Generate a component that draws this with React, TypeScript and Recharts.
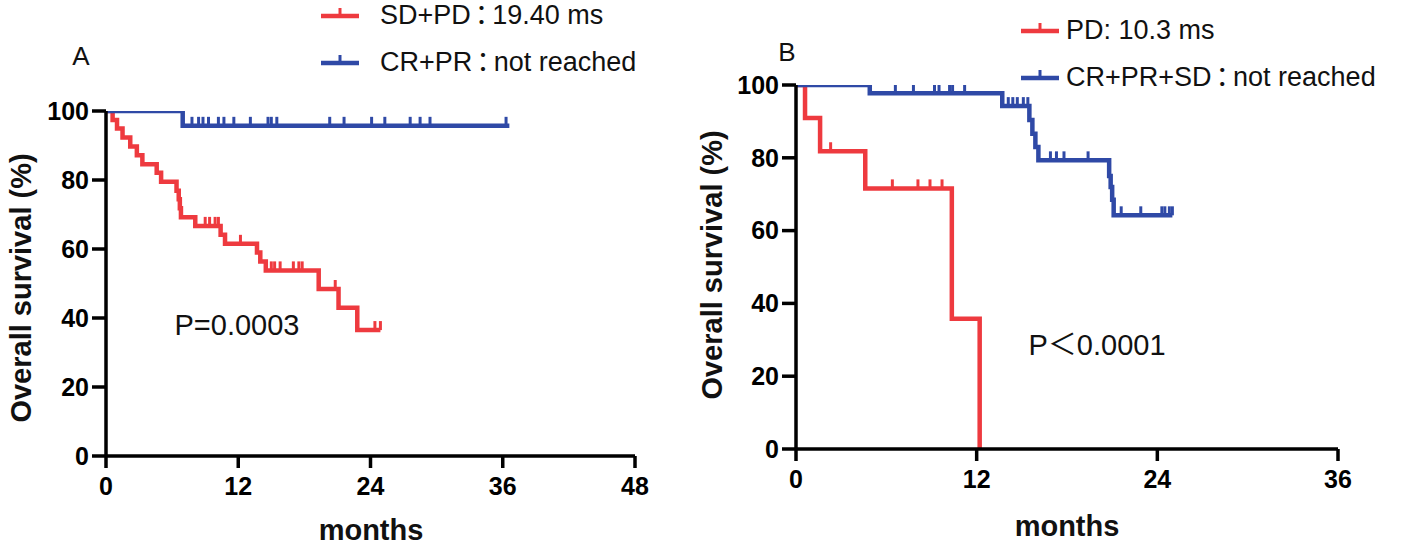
import React from 'react';
import { LineChart, Line, XAxis, YAxis } from 'recharts';

type Pt = { t: number; s: number; c?: number };

const RED = '#EE3A3F';
const BLUE = '#2F49A6';
const FONT = '"Liberation Sans", Arial, "Noto Sans CJK SC", sans-serif';

// ---------- Panel A ----------
const ticksA = [0, 12, 24, 36, 48];
const yTicks = [0, 20, 40, 60, 80, 100];

const sdpdA: Pt[] = [
  { t: 0, s: 100 }, { t: 0.6, s: 97.4 }, { t: 1.0, s: 94.9 }, { t: 1.5, s: 92.3 },
  { t: 2.2, s: 89.7 }, { t: 2.8, s: 87.2 }, { t: 3.3, s: 84.6 }, { t: 4.6, s: 82.1 },
  { t: 5.0, s: 79.5 }, { t: 6.4, s: 76.9 }, { t: 6.6, s: 74.4 }, { t: 6.7, s: 71.8 },
  { t: 6.8, s: 69.2 }, { t: 8.1, s: 66.7 }, { t: 9.0, s: 66.7, c: 1 }, { t: 9.4, s: 66.7, c: 1 },
  { t: 9.9, s: 66.7, c: 1 }, { t: 10.2, s: 66.7, c: 1 }, { t: 10.4, s: 64.1 }, { t: 10.8, s: 61.5 },
  { t: 12.2, s: 61.5, c: 1 }, { t: 13.7, s: 59.0 }, { t: 14.0, s: 56.4 }, { t: 14.5, s: 53.8 },
  { t: 15.0, s: 53.8, c: 1 }, { t: 15.3, s: 53.8, c: 1 }, { t: 15.8, s: 53.8, c: 1 },
  { t: 17.0, s: 53.8, c: 1 }, { t: 17.5, s: 53.8, c: 1 }, { t: 17.8, s: 53.8, c: 1 },
  { t: 19.3, s: 48.4 }, { t: 20.8, s: 48.4, c: 1 }, { t: 21.1, s: 43.0 }, { t: 22.8, s: 36.5 },
  { t: 24.4, s: 36.5, c: 1 }, { t: 24.9, s: 36.5, c: 1 },
];

const crprA: Pt[] = [
  { t: 0, s: 100 }, { t: 6.96, s: 95.7 }, { t: 7.8, s: 95.7, c: 1 }, { t: 8.4, s: 95.7, c: 1 },
  { t: 8.8, s: 95.7, c: 1 }, { t: 9.3, s: 95.7, c: 1 }, { t: 10.2, s: 95.7, c: 1 },
  { t: 10.7, s: 95.7, c: 1 }, { t: 11.6, s: 95.7, c: 1 }, { t: 13.1, s: 95.7, c: 1 },
  { t: 14.7, s: 95.7, c: 1 }, { t: 15.0, s: 95.7, c: 1 }, { t: 15.5, s: 95.7, c: 1 },
  { t: 20.3, s: 95.7, c: 1 }, { t: 21.6, s: 95.7, c: 1 }, { t: 24.1, s: 95.7, c: 1 },
  { t: 25.3, s: 95.7, c: 1 }, { t: 27.6, s: 95.7, c: 1 }, { t: 28.5, s: 95.7, c: 1 },
  { t: 29.4, s: 95.7, c: 1 }, { t: 36.3, s: 95.7, c: 1 }, { t: 36.6, s: 95.7 },
];

// ---------- Panel B ----------
const ticksB = [0, 12, 24, 36];

const pdB: Pt[] = [
  { t: 0, s: 100 }, { t: 0.6, s: 90.9 }, { t: 1.6, s: 81.8 }, { t: 2.3, s: 81.8, c: 1 },
  { t: 4.6, s: 71.6 }, { t: 6.4, s: 71.6, c: 1 }, { t: 8.1, s: 71.6, c: 1 },
  { t: 8.9, s: 71.6, c: 1 }, { t: 9.7, s: 71.6, c: 1 }, { t: 10.35, s: 35.8 }, { t: 12.2, s: 0 },
];

const crprsdB: Pt[] = [
  { t: 0, s: 100 }, { t: 1.0, s: 100, c: 1 }, { t: 1.6, s: 100, c: 1 }, { t: 2.6, s: 100, c: 1 },
  { t: 3.4, s: 100, c: 1 }, { t: 4.4, s: 100, c: 1 }, { t: 4.9, s: 97.7 },
  { t: 6.6, s: 97.7, c: 1 }, { t: 7.8, s: 97.7, c: 1 }, { t: 9.2, s: 97.7, c: 1 },
  { t: 9.5, s: 97.7, c: 1 }, { t: 10.2, s: 97.7, c: 1 }, { t: 10.4, s: 97.7, c: 1 },
  { t: 11.2, s: 97.7, c: 1 }, { t: 13.7, s: 94.2 }, { t: 14.1, s: 94.2, c: 1 },
  { t: 14.4, s: 94.2, c: 1 }, { t: 14.7, s: 94.2, c: 1 }, { t: 15.1, s: 94.2, c: 1 },
  { t: 15.4, s: 94.2, c: 1 }, { t: 15.5, s: 90.4 }, { t: 15.7, s: 86.6 }, { t: 15.9, s: 83.0 },
  { t: 16.1, s: 79.3 }, { t: 16.9, s: 79.3, c: 1 }, { t: 17.3, s: 79.3, c: 1 },
  { t: 17.8, s: 79.3, c: 1 }, { t: 19.4, s: 79.3, c: 1 }, { t: 20.8, s: 75.0 },
  { t: 20.9, s: 72.0 }, { t: 21.0, s: 68.5 }, { t: 21.1, s: 64.2 }, { t: 21.6, s: 64.2, c: 1 },
  { t: 22.9, s: 64.2, c: 1 }, { t: 24.3, s: 64.2, c: 1 }, { t: 24.5, s: 64.2, c: 1 },
  { t: 24.8, s: 64.2, c: 1 }, { t: 25.0, s: 64.2, c: 1 },
];

const legendA = [
  { name: 'SD+PD：19.40 ms', color: RED },
  { name: 'CR+PR：not reached', color: BLUE },
];
const legendB = [
  { name: 'PD: 10.3 ms', color: RED },
  { name: 'CR+PR+SD：not reached', color: BLUE },
];

const censorDot = (color: string) => (props: any) => {
  const { cx, cy, payload, index } = props;
  if (!payload || !payload.c || cx == null || cy == null) return <g key={`n-${index}`} />;
  return (
    <line key={`c-${index}`} x1={cx} x2={cx} y1={cy} y2={cy - 9} stroke={color} strokeWidth={3} />
  );
};

const axisStyle = { stroke: '#000', strokeWidth: 3.5 };
const tickStyle = { fill: '#000', fontSize: 25, fontWeight: 700, fontFamily: FONT };

type PanelProps = {
  left: number;
  width: number;
  margin: { top: number; right: number; bottom: number; left: number };
  xMax: number;
  xTicks: number[];
  series: { data: Pt[]; color: string; name: string }[];
};

const Panel = ({ left, width, margin, xMax, xTicks, series }: PanelProps) => (
  <div style={{ position: 'absolute', left, top: 0 }}>
    <LineChart width={width} height={548} margin={margin}>
      <XAxis
        dataKey="t"
        type="number"
        domain={[0, xMax]}
        ticks={xTicks}
        allowDataOverflow
        height={60}
        tickSize={12}
        tickMargin={9}
        axisLine={axisStyle}
        tickLine={axisStyle}
        tick={tickStyle}
      />
      <YAxis
        type="number"
        domain={[0, 100]}
        ticks={yTicks}
        allowDataOverflow
        width={60}
        tickSize={14}
        tickMargin={3}
        axisLine={axisStyle}
        tickLine={axisStyle}
        tick={tickStyle}
      />
      {series.map((sr) => (
        <Line
          key={sr.name}
          name={sr.name}
          data={sr.data}
          dataKey="s"
          type="stepAfter"
          stroke={sr.color}
          strokeWidth={4.5}
          dot={censorDot(sr.color)}
          activeDot={false}
          isAnimationActive={false}
        />
      ))}
    </LineChart>
  </div>
);

const LegendRow = ({ x, y, textX, item }: { x: number; y: number; textX: number; item: any }) => {
  const parts = item.name.split('：');
  return (
    <>
      <svg style={{ position: 'absolute', left: x, top: y - 8 }} width={38} height={14}>
        <line x1={0} x2={38} y1={9} y2={9} stroke={item.color} strokeWidth={4.5} />
        <line x1={19} x2={19} y1={9} y2={1} stroke={item.color} strokeWidth={3} />
      </svg>
      <div
        style={{
          position: 'absolute',
          left: textX,
          top: y,
          transform: 'translateY(-50%)',
          fontSize: 27,
          fontFamily: FONT,
          fontFeatureSettings: '"palt"',
          color: '#111',
          whiteSpace: 'nowrap',
          lineHeight: 1,
        }}
      >
        {parts.length === 2 ? (
          <>
            {parts[0]}
            <span style={{ margin: '0 4px' }}>：</span>
            {parts[1]}
          </>
        ) : (
          item.name
        )}
      </div>
    </>
  );
};

const Txt = ({ x, y, size, bold, rotate, children }: any) => (
  <div
    style={{
      position: 'absolute',
      left: x,
      top: y,
      transform: `translate(-50%, -50%)${rotate ? ' rotate(-90deg)' : ''}`,
      fontSize: size,
      fontWeight: bold ? 700 : 400,
      fontFamily: FONT,
      color: '#111',
      whiteSpace: 'nowrap',
      lineHeight: 1,
    }}
  >
    {children}
  </div>
);

export default function App() {
  return (
    <div style={{ position: 'absolute', left: 0, top: 0, width: 1417, height: 548, background: '#fff', overflow: 'hidden' }}>
      <Panel
        left={0}
        width={700}
        margin={{ top: 111, right: 65, bottom: 32, left: 46 }}
        xMax={48}
        xTicks={ticksA}
        series={[
          { data: sdpdA, color: RED, name: 'SD+PD' },
          { data: crprA, color: BLUE, name: 'CR+PR' },
        ]}
      />
      <Panel
        left={700}
        width={717}
        margin={{ top: 85, right: 79, bottom: 39, left: 36 }}
        xMax={36}
        xTicks={ticksB}
        series={[
          { data: pdB, color: RED, name: 'PD' },
          { data: crprsdB, color: BLUE, name: 'CR+PR+SD' },
        ]}
      />
      {legendA.map((l, i) => (
        <LegendRow key={l.name} x={321} y={15 + i * 47} textX={380} item={l} />
      ))}
      {legendB.map((l, i) => (
        <LegendRow key={l.name} x={1021} y={30 + i * 47} textX={1066} item={l} />
      ))}
      <Txt x={81} y={56} size={26}>A</Txt>
      <Txt x={787} y={52} size={26}>B</Txt>
      <Txt x={21} y={288} size={29} bold rotate>Overall survival (%)</Txt>
      <Txt x={712} y={265} size={29} bold rotate>Overall survival (%)</Txt>
      <Txt x={371} y={530} size={29} bold>months</Txt>
      <Txt x={1067} y={526} size={29} bold>months</Txt>
      <Txt x={237} y={325} size={29}>P=0.0003</Txt>
      <Txt x={1097} y={345} size={29}>P＜0.0001</Txt>
    </div>
  );
}
